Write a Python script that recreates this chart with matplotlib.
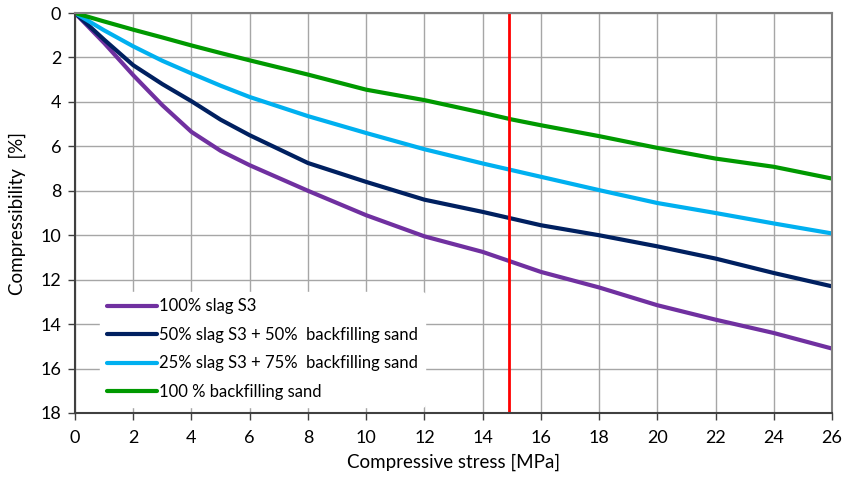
import matplotlib.pyplot as plt

# Stress values [MPa] at which compressibility was read
stress = [0, 1, 2, 3, 4, 5, 6, 8, 10, 12, 14, 15, 16, 18, 20, 22, 24, 26]

slag_100 = [0, 1.35, 2.8, 4.15, 5.35, 6.2, 6.85, 8.0, 9.1, 10.05, 10.75, 11.2, 11.65, 12.35, 13.15, 13.8, 14.4, 15.1]
slag_50 = [0, 1.2, 2.35, 3.2, 3.97, 4.8, 5.5, 6.75, 7.6, 8.4, 8.95, 9.25, 9.55, 10.0, 10.5, 11.05, 11.7, 12.3]
slag_25 = [0, 0.78, 1.5, 2.15, 2.72, 3.27, 3.78, 4.64, 5.4, 6.13, 6.77, 7.07, 7.37, 7.97, 8.55, 9.0, 9.47, 9.92]
sand_100 = [0, 0.38, 0.75, 1.1, 1.46, 1.8, 2.13, 2.77, 3.45, 3.92, 4.49, 4.79, 5.05, 5.54, 6.07, 6.55, 6.92, 7.45]

labels = [
    "100% slag S3",
    "50% slag S3 + 50%  backfilling sand",
    "25% slag S3 + 75%  backfilling sand",
    "100 % backfilling sand",
]
colors = ["#7030A0", "#002060", "#00B0F0", "#009900"]
limit_stress = 14.9

plt.rcParams["font.family"] = ["Lato", "DejaVu Sans"]

fig = plt.figure(figsize=(8.45, 4.84), dpi=100)
ax = fig.add_axes([0.0888, 0.1467, 0.8958, 0.8264])

for series, label, color in zip([slag_100, slag_50, slag_25, sand_100], labels, colors):
    ax.plot(stress, series, color=color, lw=3, label=label,
            solid_capstyle="round", solid_joinstyle="round")

ax.axvline(limit_stress, color="#FF0000", lw=2)

ax.set_xlim(0, 26)
ax.set_ylim(18, 0)
ax.set_xticks(range(0, 27, 2))
ax.set_yticks(range(0, 19, 2))
ax.grid(True, color="#A6A6A6", lw=1)
ax.set_axisbelow(True)
ax.tick_params(labelsize=13, length=5, width=1, color="#404040", direction="out")
ax.tick_params(axis="x", pad=7)
ax.tick_params(axis="y", pad=5)

for side in ["left", "bottom"]:
    ax.spines[side].set_color("#404040")
    ax.spines[side].set_linewidth(1.5)
for side in ["top", "right"]:
    ax.spines[side].set_color("#808080")
    ax.spines[side].set_linewidth(1.5)

ax.set_xlabel("Compressive stress [MPa]", fontsize=13.5, labelpad=6)
ax.set_ylabel("Compressibility  [%]", fontsize=13.5, labelpad=10)

leg = ax.legend(loc="lower left", bbox_to_anchor=(0.022, -0.005), frameon=True, fontsize=12,
                handlelength=3, handletextpad=0.15, labelspacing=0.75, borderpad=0.4)
leg.get_frame().set_edgecolor("white")
leg.get_frame().set_facecolor("white")
leg.get_frame().set_alpha(1)

fig.savefig("out.png", dpi=100)
